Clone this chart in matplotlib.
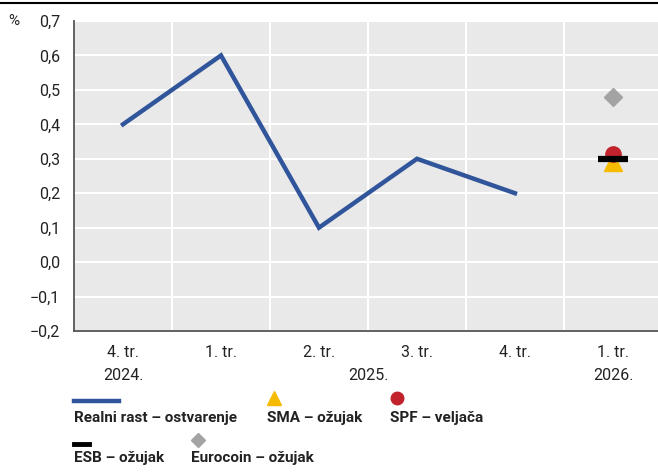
import numpy as np
import matplotlib.pyplot as plt
from matplotlib.lines import Line2D

plt.rcParams['font.family'] = ['Roboto', 'DejaVu Sans']

# data
quarters = ['4. tr.', '1. tr.', '2. tr.', '3. tr.', '4. tr.', '1. tr.']
years = ['2024.', '2025.', '2026.']
year_pos = [0, 2.5, 5]
realni_rast = [0.4, 0.6, 0.1, 0.3, 0.2]
sma = 0.29
spf = 0.315
esb = 0.30
eurocoin = 0.48
forecast_x = 5
yticks = np.arange(-0.2, 0.71, 0.1)

blue = '#31559b'
gold = '#f6bb00'
red = '#c1222b'
grey = '#a3a3a3'
txt = '#222222'

fig = plt.figure(figsize=(6.58, 4.73), dpi=100)
ax = fig.add_axes([74 / 658, 1 - 331 / 473, 1 - 74 / 658 + 0.006, 310 / 473])
ax.set_facecolor('#e9e9e9')

ax.plot(range(len(realni_rast)), realni_rast, color=blue, lw=3.2, solid_joinstyle='miter', zorder=3)
ax.plot(forecast_x, sma, marker='^', color=gold, ms=13, ls='none', zorder=4)
ax.plot(forecast_x, spf, marker='o', color=red, ms=11, ls='none', zorder=5)
ax.plot(forecast_x, esb, marker='_', color='black', ms=21, mew=4.5, ls='none', zorder=6)
ax.plot(forecast_x, eurocoin, marker='D', color=grey, ms=9, ls='none', zorder=4)

ax.set_xlim(-0.5, 5.5)
ax.set_ylim(-0.2, 0.7)
ax.set_yticks(yticks)
ax.set_yticklabels([f'{v:.1f}'.replace('.', ',').replace('-', '\u2212') for v in yticks])
ax.set_xticks(np.arange(-0.5, 5.6, 1))
ax.set_xticklabels([])
ax.grid(True, color='white', lw=1.5)
ax.set_axisbelow(True)
ax.tick_params(axis='both', length=0, labelsize=11.5, colors=txt, pad=10)

for s in ['top', 'right']:
    ax.spines[s].set_visible(False)
for s in ['left', 'bottom']:
    ax.spines[s].set_color('#555555')
    ax.spines[s].set_linewidth(1.3)

trans = ax.get_xaxis_transform()
for i, q in enumerate(quarters):
    ax.text(i, -0.07, q, transform=trans, ha='center', va='center', fontsize=11.5, color=txt)
for p, y in zip(year_pos, years):
    ax.text(p, -0.145, y, transform=trans, ha='center', va='center', fontsize=11.5, color=txt)

fig.text(14 / 658, 1 - 21 / 473, '%', ha='center', va='center', fontsize=11, color=txt)
fig.add_artist(Line2D([0, 1], [1 - 3 / 473, 1 - 3 / 473], color='black', lw=1.5))


# legend
def fx(px):
    return px / 658


def fy(py):
    return 1 - py / 473


fig.add_artist(Line2D([fx(74), fx(119)], [fy(401), fy(401)], color=blue, lw=3.2))
fig.text(fx(74), fy(418), 'Realni rast \u2013 ostvarenje', ha='left', va='center', fontsize=11, fontweight='bold', color=txt)
fig.add_artist(Line2D([fx(274)], [fy(398)], marker='^', color=gold, ms=10, ls='none'))
fig.text(fx(267), fy(418), 'SMA \u2013 o\u017eujak', ha='left', va='center', fontsize=11, fontweight='bold', color=txt)
fig.add_artist(Line2D([fx(397)], [fy(398)], marker='o', color=red, ms=9, ls='none'))
fig.text(fx(390), fy(418), 'SPF \u2013 velja\u010da', ha='left', va='center', fontsize=11, fontweight='bold', color=txt)
fig.add_artist(Line2D([fx(74), fx(89)], [fy(444), fy(444)], color='black', lw=3.5))
fig.text(fx(74), fy(458), 'ESB \u2013 o\u017eujak', ha='left', va='center', fontsize=11, fontweight='bold', color=txt)
fig.add_artist(Line2D([fx(198)], [fy(440)], marker='D', color=grey, ms=7, ls='none'))
fig.text(fx(191), fy(458), 'Eurocoin \u2013 o\u017eujak', ha='left', va='center', fontsize=11, fontweight='bold', color=txt)

fig.savefig('out.png', dpi=100)
